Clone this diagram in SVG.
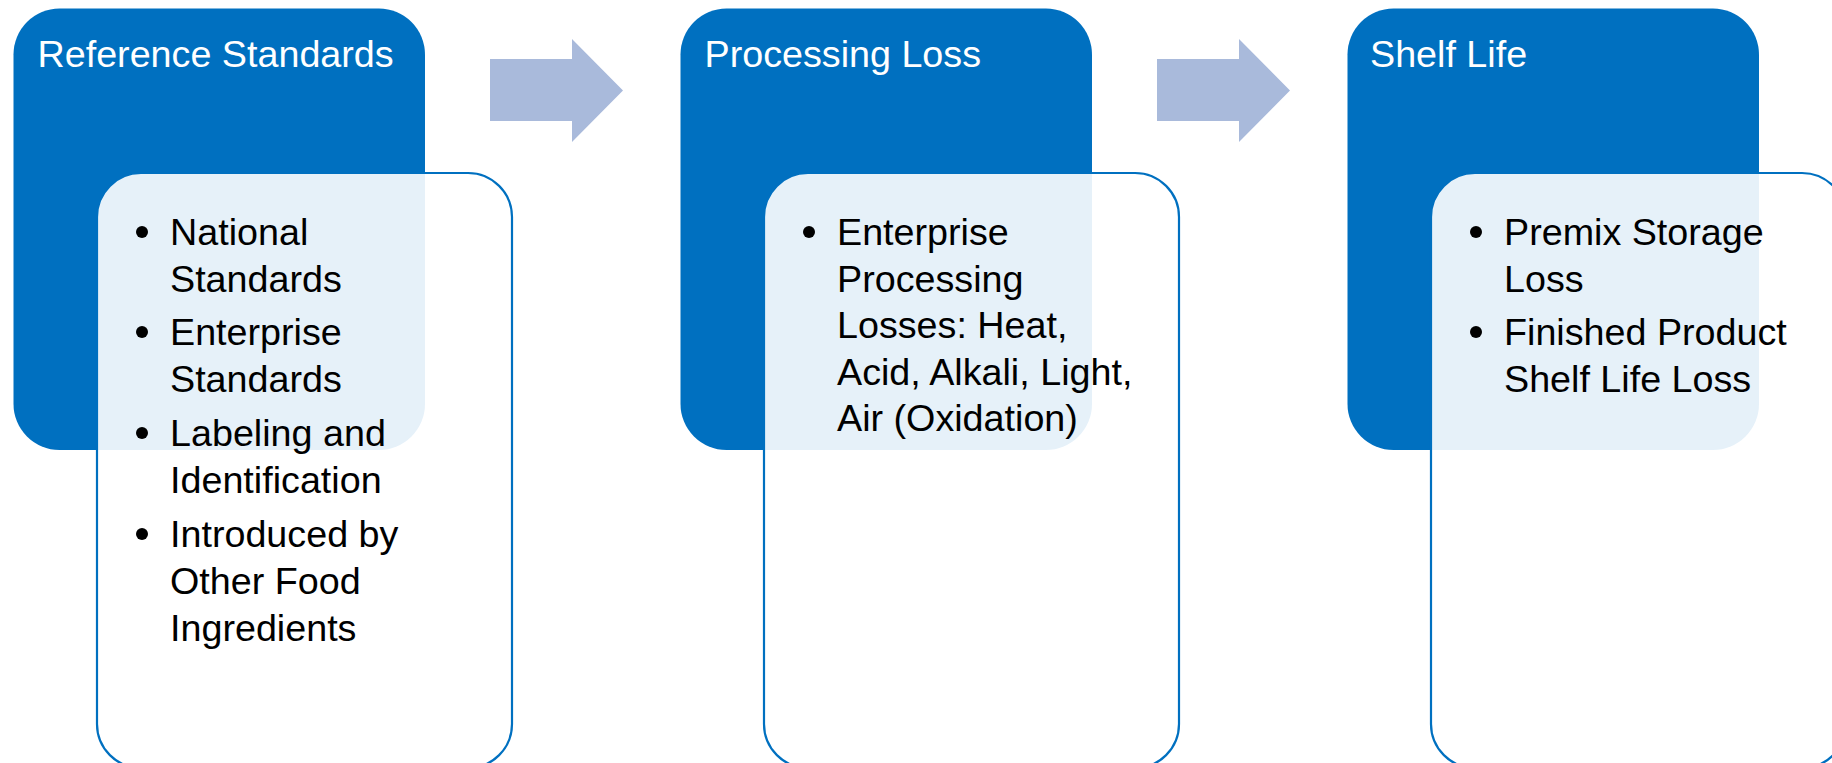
<svg xmlns="http://www.w3.org/2000/svg" width="1832" height="763" viewBox="0 0 1832 763">
<style>
.hdr{fill:#0070C0;}
.card{fill:#FFFFFF;fill-opacity:0.9;stroke:#0070C0;stroke-width:2.2;}
.ttl{font-family:"Liberation Sans",Arial,sans-serif;font-size:37.7px;fill:#FFFFFF;}
.txt{font-family:"Liberation Sans",Arial,sans-serif;font-size:37.7px;fill:#000000;}
.bul{fill:#000000;}
.arw{fill:#A9BADB;}
</style>
<rect width="1832" height="763" fill="#FFFFFF"/>
<g id="connectors">
<polygon class="arw" points="490,59 572,59 572,39 623,90.5 572,142 572,121 490,121"/>
<polygon class="arw" points="1157,59 1239,59 1239,39 1290,90.5 1239,142 1239,121 1157,121"/>
</g>
<g id="node-reference-standards">
<rect class="hdr" x="13.5" y="8.5" width="411.5" height="441.5" rx="46" ry="46"/>
<text class="ttl" x="37.5" y="67">Reference Standards</text>
<rect class="card" x="97" y="173" width="415" height="595" rx="44" ry="44"/>
<circle class="bul" cx="142" cy="232" r="6"/>
<text class="txt" x="170" y="245">National</text>
<text class="txt" x="170" y="292">Standards</text>
<circle class="bul" cx="142" cy="332" r="6"/>
<text class="txt" x="170" y="345">Enterprise</text>
<text class="txt" x="170" y="392">Standards</text>
<circle class="bul" cx="142" cy="433" r="6"/>
<text class="txt" x="170" y="446">Labeling and</text>
<text class="txt" x="170" y="493">Identification</text>
<circle class="bul" cx="142" cy="534" r="6"/>
<text class="txt" x="170" y="547">Introduced by</text>
<text class="txt" x="170" y="594">Other Food</text>
<text class="txt" x="170" y="641">Ingredients</text>
</g>
<g id="node-processing-loss">
<rect class="hdr" x="680.5" y="8.5" width="411.5" height="441.5" rx="46" ry="46"/>
<text class="ttl" x="704.5" y="67">Processing Loss</text>
<rect class="card" x="764" y="173" width="415" height="595" rx="44" ry="44"/>
<circle class="bul" cx="809" cy="232" r="6"/>
<text class="txt" x="837" y="245">Enterprise</text>
<text class="txt" x="837" y="292">Processing</text>
<text class="txt" x="837" y="338">Losses: Heat,</text>
<text class="txt" x="837" y="385">Acid, Alkali, Light,</text>
<text class="txt" x="837" y="431">Air (Oxidation)</text>
</g>
<g id="node-shelf-life">
<rect class="hdr" x="1347.5" y="8.5" width="411.5" height="441.5" rx="46" ry="46"/>
<text class="ttl" x="1370" y="67">Shelf Life</text>
<rect class="card" x="1431" y="173" width="415" height="595" rx="44" ry="44"/>
<circle class="bul" cx="1476" cy="232" r="6"/>
<text class="txt" x="1504" y="245">Premix Storage</text>
<text class="txt" x="1504" y="292">Loss</text>
<circle class="bul" cx="1476" cy="332" r="6"/>
<text class="txt" x="1504" y="345">Finished Product</text>
<text class="txt" x="1504" y="392">Shelf Life Loss</text>
</g>
</svg>
